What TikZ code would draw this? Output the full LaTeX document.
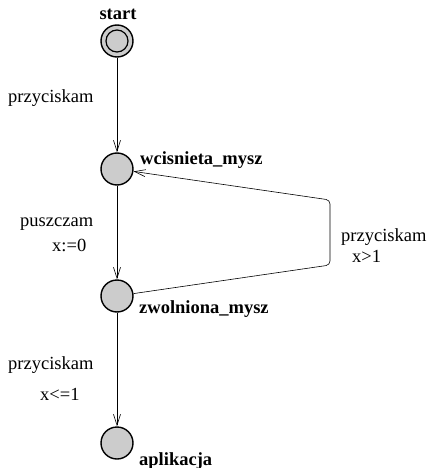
\documentclass[tikz,border=0pt]{standalone}
\usepackage{fontspec}
\setmainfont{Liberation Serif}
\usetikzlibrary{positioning, arrows.meta}

\begin{document}
\begin{tikzpicture}[
  x=1pt, y=-1pt,
  font=\fontsize{18.5}{20}\selectfont,
  loc/.style={draw, circle, line width=1.4pt, fill=gray!40, minimum size=32pt, inner sep=0pt},
  locname/.style={font=\fontsize{18.5}{20}\selectfont\bfseries, inner sep=0pt},
  lbl/.style={inner sep=0pt, anchor=west},
  edge/.style={-{Straight Barb[length=11pt, width=7pt]}, semithick},
]
\useasboundingbox (0,0) rectangle (428,468);

% --- locations (pixel positions of the reference) ---
\node[loc] (start) at (117,41) {};
\draw[line width=1.2pt] (start.center) circle (11);
\node[loc] (wcis) at (117,169) {};
\node[loc] (zwol) at (117,296) {};
\node[loc] (apl)  at (117,443) {};

% location names
\node[locname] (startname) at (118,14) {start};
\node[locname, anchor=west] (wcisname) at (140,160) {wcisnieta\_mysz};
\node[locname, anchor=west] (zwolname) at (139,309) {zwolniona\_mysz};
\node[locname, anchor=west] (aplname)  at (139,461) {aplikacja};

% --- straight transitions ---
\draw[edge] (start) -- (wcis);
\draw[edge] (wcis) -- (zwol);
\draw[edge] (zwol) -- (apl);

% --- back edge with two nails ---
\coordinate (nailb) at (330,265);
\coordinate (nailt) at (330,200);
\draw[edge, rounded corners=4pt] (zwol) -- (nailb) -- (nailt) -- (wcis);

% --- synchronisations, guards, updates ---
\node[lbl] (sync1)  at (8,98)   {przyciskam};
\node[lbl] (sync2)  at (20,224) {puszczam};
\node[lbl] (upd2)   at (52,245) {x:=0};
\node[lbl] (sync3)  at (8,365)  {przyciskam};
\node[lbl] (guard3) at (40,394) {x<=1};
\node[lbl] (sync4)  at (341,237) {przyciskam};
\node[lbl] (guard4) at (352,256) {x>1};

\end{tikzpicture}
\end{document}
